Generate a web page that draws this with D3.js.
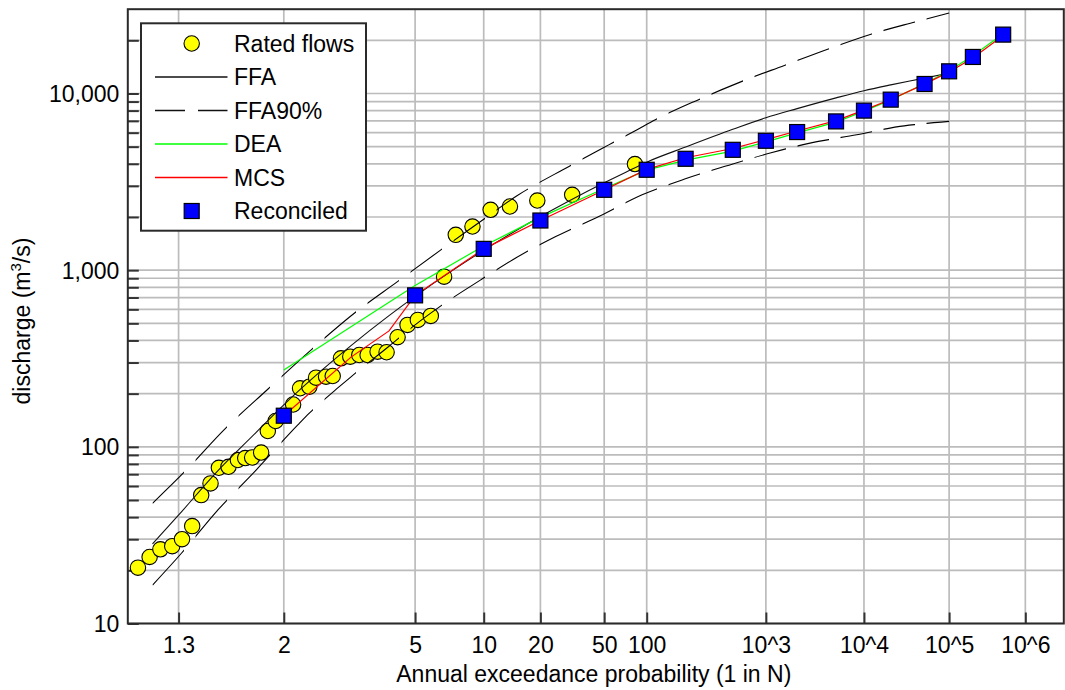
<!DOCTYPE html>
<html>
<head>
<meta charset="utf-8">
<script src="https://cdn.jsdelivr.net/npm/d3@7"></script>
<style>
  html, body { margin: 0; padding: 0; background: #fff; }
  svg { display: block; font-family: "Liberation Sans", Arial, sans-serif; }
</style>
</head>
<body>
<svg id="chart" width="1065" height="690"></svg>
<script>
// ---- Data: return period N (1 in N) and discharge Q (m3/s) ----
const ratedN = [1.212, 1.242, 1.273, 1.311, 1.346, 1.386, 1.425, 1.469, 1.512, 1.566,
                1.624, 1.673, 1.723, 1.793, 1.849, 1.92, 2.10, 2.181, 2.299, 2.392,
                2.543, 2.653, 2.801, 2.985, 3.182, 3.384, 3.652, 3.922, 4.294, 4.677,
                5.126, 5.78, 6.575, 7.40, 8.83, 10.82, 13.59, 19.2, 31.0, 82];
const ratedQ = [20.7, 23.8, 26.3, 27.4, 30.0, 35.6, 53.3, 62.1, 76.1, 77.1,
                84.2, 86.4, 87.0, 92.8, 122.9, 140, 173.6, 214.5, 219, 246.4,
                249.5, 251.8, 317, 324, 331, 331, 345.8, 343, 417.3, 490,
                523, 551, 919, 1585, 1766, 2196, 2293, 2478, 2671, 3987];

const ffaN = [1.25, 1.333, 1.5, 1.75, 2, 2.5, 3, 4, 5, 7, 10, 15, 20, 30, 50, 70, 100,
              200, 500, 1000, 2000, 5000, 1e4, 2e4, 5e4, 1e5];
const ffaQ = [28.2, 41, 72, 120, 173, 276, 374, 553, 711, 978, 1297, 1699, 2010, 2480,
              3122, 3575, 4088, 4977, 6270, 7295, 8210, 9446, 10375, 11190, 12220, 13060];

const ffaLowN = [1.25, 1.343, 1.498, 1.753, 2.154, 2.299, 2.77, 3, 4, 5, 7, 9.67, 14, 24.6,
                 46, 92.5, 199, 444, 1098, 2915, 8330, 25500, 1e5];
const ffaLowQ = [16.5, 24.9, 42.9, 73.9, 133, 155, 219, 249, 371, 490, 683, 881, 1143, 1549,
                 2014, 2671, 3289, 3898, 4603, 5286, 5843, 6511, 6950];

const ffaHighN = [1.25, 1.356, 1.543, 1.849, 2.32, 3.07, 4.29, 6.37, 10, 14.6, 29.6, 56.7,
                  85, 116, 255, 603, 1500, 4150, 12200, 38400, 1e5];
const ffaHighQ = [47.9, 72.3, 125.6, 211.8, 353, 570, 861, 1303, 1941, 2612, 3864, 5242,
                  6237, 7106, 9228, 11710, 14420, 17870, 21730, 25400, 28580];

const deaN = [2, 5, 10, 20, 50, 100, 200, 500, 1000, 2000, 5000, 1e4, 2e4, 5e4, 1e5, 2e5, 5e5];
const deaQ = [272, 820, 1370, 1990, 2900, 3680, 4200, 4720, 5320, 5980, 6880, 7950, 9200,
              11350, 13450, 16350, 21800];

const mcsN = [2, 3, 4, 5, 10, 20, 50, 100, 200, 500, 1000, 2000, 5000, 1e4, 2e4, 5e4, 1e5, 2e5, 5e5];
const mcsQ = [150, 322, 453, 720, 1320, 1910, 2840, 3720, 4330, 4880, 5480, 6130, 7020, 8050,
              9250, 11300, 13250, 15900, 21300];

const recN = [2, 5, 10, 20, 50, 100, 200, 500, 1000, 2000, 5000, 1e4, 2e4, 5e4, 1e5, 2e5, 5e5];
const recQ = [150, 720, 1320, 1910, 2850, 3700, 4270, 4800, 5400, 6050, 6950, 8000, 9230,
              11320, 13350, 16100, 21540];

const xTickN = [4 / 3, 2, 5, 10, 20, 50, 100, 1e3, 1e4, 1e5, 1e6];
const xTickLabels = ["1.3", "2", "5", "10", "20", "50", "100", "10^3", "10^4", "10^5", "10^6"];
const yMajor = [10, 100, 1000, 10000];
const yMajorLabels = ["10", "100", "1,000", "10,000"];

// ---- Normal probability transform (inverse standard normal CDF) ----
function probit(p) {
  const a = [-3.969683028665376e+01, 2.209460984245205e+02, -2.759285104469687e+02,
             1.383577518672690e+02, -3.066479806614716e+01, 2.506628277459239e+00];
  const b = [-5.447609879822406e+01, 1.615858368580409e+02, -1.556989798598866e+02,
             6.680131188771972e+01, -1.328068155288572e+01];
  const c = [-7.784894002430293e-03, -3.223964580411365e-01, -2.400758277161838e+00,
             -2.549671348451285e+00, 4.374664141464968e+00, 2.938163982698783e+00];
  const d = [7.784695709041462e-03, 3.224671290700398e-01, 2.445134137142996e+00,
             3.754408661907416e+00];
  const pl = 0.02425, ph = 1 - pl;
  let q, r;
  if (p < pl) {
    q = Math.sqrt(-2 * Math.log(p));
    return (((((c[0]*q+c[1])*q+c[2])*q+c[3])*q+c[4])*q+c[5]) / ((((d[0]*q+d[1])*q+d[2])*q+d[3])*q+1);
  }
  if (p <= ph) {
    q = p - 0.5; r = q * q;
    return (((((a[0]*r+a[1])*r+a[2])*r+a[3])*r+a[4])*r+a[5])*q / (((((b[0]*r+b[1])*r+b[2])*r+b[3])*r+b[4])*r+1);
  }
  q = Math.sqrt(-2 * Math.log(1 - p));
  return -(((((c[0]*q+c[1])*q+c[2])*q+c[3])*q+c[4])*q+c[5]) / ((((d[0]*q+d[1])*q+d[2])*q+d[3])*q+1);
}
// standard normal variate of the non-exceedance probability 1 - 1/N
const zOf = N => -probit(1 / N);

// ---- Scales ----
const pL = 127.8, pR = 1063.8, pT = 9.2, pB = 623.5;
const xz = d3.scaleLinear().domain([-1, 5]).range([pL, pR]);
const x = N => xz(zOf(N));
const y = d3.scaleLog().domain([10, 30000]).range([pB, pT]);

const svg = d3.select("#chart");
const FONT = 23;

// ---- Grid ----
const yGrid = [];
yMajor.forEach(d => { for (let m = 1; m <= 9; m++) { const v = m * d; if (v < 30000) yGrid.push(v); } });

const grid = svg.append("g").attr("stroke", "#bcbcbc").attr("stroke-width", 1.7);
grid.selectAll("line.h").data(yGrid).join("line").attr("class", "h")
  .attr("x1", pL).attr("x2", pR)
  .attr("y1", d => y(d)).attr("y2", d => y(d));
grid.selectAll("line.v").data(xTickN).join("line").attr("class", "v")
  .attr("x1", d => x(d)).attr("x2", d => x(d))
  .attr("y1", pT).attr("y2", pB);

// ---- Axes ----
const xAxis = d3.axisBottom(xz)
  .tickValues(xTickN.map(zOf))
  .tickFormat((d, i) => xTickLabels[i])
  .tickSizeInner(-11).tickSizeOuter(0).tickPadding(13);
const gx = svg.append("g").attr("transform", `translate(0,${pB})`).call(xAxis);
gx.select(".domain").remove();
gx.selectAll(".tick line").attr("stroke", "#333").attr("stroke-width", 2);
gx.selectAll(".tick text").attr("fill", "#000").attr("font-size", FONT)
  .attr("font-family", "Liberation Sans, Arial, sans-serif");

const yAxis = d3.axisLeft(y)
  .tickValues(yGrid)
  .tickFormat(d => { const i = yMajor.indexOf(d); return i >= 0 ? yMajorLabels[i] : ""; })
  .tickSizeInner(-11).tickSizeOuter(0).tickPadding(8.5);
const gy = svg.append("g").attr("transform", `translate(${pL},0)`).call(yAxis);
gy.select(".domain").remove();
gy.selectAll(".tick line").attr("stroke", "#333").attr("stroke-width", 2);
gy.selectAll(".tick text").attr("fill", "#000").attr("font-size", FONT)
  .attr("dy", "0.35em")
  .attr("font-family", "Liberation Sans, Arial, sans-serif");

// ---- Rated flows ----
const pairs = (ns, qs) => ns.map((n, i) => ({ n, q: qs[i] }));
const rr = 7.7;
svg.append("g").selectAll("circle").data(pairs(ratedN, ratedQ)).join("circle")
  .attr("cx", d => x(d.n)).attr("cy", d => y(d.q)).attr("r", rr)
  .attr("fill", "#ffff00").attr("stroke", "#000").attr("stroke-width", 1.1);

// ---- Curves ----
const smooth = d3.line().x(d => x(d.n)).y(d => y(d.q)).curve(d3.curveMonotoneX);
const straight = d3.line().x(d => x(d.n)).y(d => y(d.q));

// dashes for the 90% limits follow the horizontal direction
const clip = svg.append("defs").append("clipPath").attr("id", "dashes");
const dashStart = x(ffaHighN[0]);
clip.selectAll("rect").data(d3.range(0, 22)).join("rect")
  .attr("x", k => dashStart + k * 43).attr("width", 31.5)
  .attr("y", 0).attr("height", 690);

const bands = svg.append("g").attr("clip-path", "url(#dashes)");
bands.append("path").datum(pairs(ffaHighN, ffaHighQ)).attr("d", smooth)
  .attr("fill", "none").attr("stroke", "#000").attr("stroke-width", 1.1);
bands.append("path").datum(pairs(ffaLowN, ffaLowQ)).attr("d", smooth)
  .attr("fill", "none").attr("stroke", "#000").attr("stroke-width", 1.1);

svg.append("path").datum(pairs(ffaN, ffaQ)).attr("d", smooth)
  .attr("fill", "none").attr("stroke", "#111").attr("stroke-width", 1.1);

svg.append("path").datum(pairs(deaN, deaQ)).attr("d", straight)
  .attr("fill", "none").attr("stroke", "#00ff00").attr("stroke-width", 1.2);
svg.append("path").datum(pairs(mcsN, mcsQ)).attr("d", straight)
  .attr("fill", "none").attr("stroke", "#ff0000").attr("stroke-width", 1.2);

// ---- Reconciled ----
const sq = 15;
svg.append("g").selectAll("rect").data(pairs(recN, recQ)).join("rect")
  .attr("x", d => x(d.n) - sq / 2).attr("y", d => y(d.q) - sq / 2)
  .attr("width", sq).attr("height", sq)
  .attr("fill", "#0000ff").attr("stroke", "#000").attr("stroke-width", 1.2);

// ---- Frame ----
svg.append("rect").attr("x", pL).attr("y", pT)
  .attr("width", pR - pL).attr("height", pB - pT)
  .attr("fill", "none").attr("stroke", "#2a2a2a").attr("stroke-width", 2);

// ---- Axis titles ----
svg.append("text").attr("x", (pL + pR) / 2 - 2).attr("y", 682)
  .attr("text-anchor", "middle").attr("font-size", FONT).attr("fill", "#000")
  .text("Annual exceedance probability (1 in N)");

const yt = svg.append("text").attr("transform", "translate(30,321) rotate(-90)")
  .attr("text-anchor", "middle").attr("font-size", FONT).attr("fill", "#000");
yt.append("tspan").text("discharge (m");
yt.append("tspan").attr("font-size", 15).attr("dy", -9).text("3");
yt.append("tspan").attr("dy", 9).text("/s)");

// ---- Legend ----
const lg = svg.append("g");
lg.append("rect").attr("x", 141).attr("y", 23.3).attr("width", 225).attr("height", 207.4)
  .attr("fill", "#fff").attr("stroke", "#2a2a2a").attr("stroke-width", 2);
const rows = [
  { label: "Rated flows", kind: "circle" },
  { label: "FFA", kind: "line", color: "#111" },
  { label: "FFA90%", kind: "line", color: "#111", dash: "30,13" },
  { label: "DEA", kind: "line", color: "#00ff00" },
  { label: "MCS", kind: "line", color: "#ff0000" },
  { label: "Reconciled", kind: "square" }
];
rows.forEach((r, i) => {
  const cy = 43.5 + i * 33.5;
  if (r.kind === "circle") {
    lg.append("circle").attr("cx", 191.7).attr("cy", cy).attr("r", rr)
      .attr("fill", "#ffff00").attr("stroke", "#000").attr("stroke-width", 1.1);
  } else if (r.kind === "square") {
    lg.append("rect").attr("x", 191.7 - sq / 2).attr("y", cy - sq / 2)
      .attr("width", sq).attr("height", sq)
      .attr("fill", "#0000ff").attr("stroke", "#000").attr("stroke-width", 1.2);
  } else {
    lg.append("line").attr("x1", 155).attr("x2", 227.5).attr("y1", cy).attr("y2", cy)
      .attr("stroke", r.color).attr("stroke-width", 1.3)
      .attr("stroke-dasharray", r.dash || null);
  }
  lg.append("text").attr("x", 234).attr("y", cy + 8.2)
    .attr("font-size", FONT).attr("fill", "#000").text(r.label);
});
</script>
</body>
</html>
